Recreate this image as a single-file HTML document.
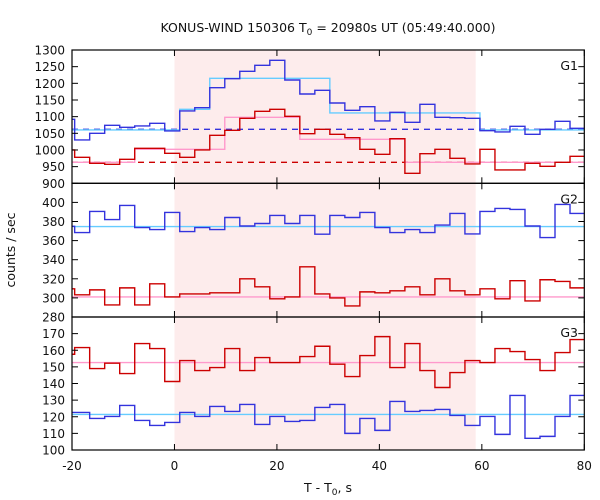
<!DOCTYPE html>
<html><head><meta charset="utf-8"><style>
body{margin:0;background:#fff;}
svg{display:block;font-family:"DejaVu Sans","Liberation Sans",sans-serif;}
</style></head><body>
<svg id="chart" width="600" height="500" viewBox="0 0 600 500">
<text x="328" y="32" text-anchor="middle" font-size="12.5" fill="#111">KONUS-WIND 150306 T<tspan font-size="9" dy="3">0</tspan><tspan dy="-3"> = 20980s UT (05:49:40.000)</tspan></text>
<text transform="translate(15,250) rotate(-90)" text-anchor="middle" font-size="12.5" fill="#111">counts / sec</text>
<text x="328" y="492" text-anchor="middle" font-size="12.5" fill="#111">T - T<tspan font-size="9" dy="3">0</tspan><tspan dy="-3">, s</tspan></text>
</svg>
<script>
const binStart = -19.48;
const binWidth = 2.93;
const xTicks = [-20, 0, 20, 40, 60, 80];
const shadeRange = [0, 58.8];

const g1Hard = [1092,1030,1050,1074,1068,1072,1080,1057,1117,1127,1187,1214,1236,1254,1269,1210,1168,1179,1141,1119,1130,1087,1113,1083,1137,1098,1097,1095,1058,1054,1071,1047,1062,1086,1065];
const g1HardModel = [1060,1060,1060,1060,1060,1060,1060,1060,1122,1122,1215,1215,1215,1215,1215,1215,1215,1215,1111,1111,1111,1111,1111,1111,1111,1111,1111,1111,1060,1060,1060,1060,1060,1060,1060];
const g1Soft = [1000,978,960,957,972,1005,1005,990,978,1000,1044,1059,1095,1116,1122,1101,1049,1062,1047,1037,1002,987,1034,930,989,1002,975,958,1002,940,940,960,951,963,981];
const g1SoftModel = [963,963,963,963,963,1002,1002,1002,1002,1002,1002,1098,1098,1098,1098,1098,1032,1032,1032,1032,1032,1032,1032,963,963,963,963,963,963,963,963,963,963,963,963];
const g1Bg = [1062, 963];

const g2Blue = [375,368.4,390.5,382,396.8,373.7,371.6,389.5,369.5,373.7,371.6,384.2,375.3,377.9,386.3,377.9,386.3,366.7,386.3,384.2,389.5,373.7,368.4,371.6,368.4,376.3,388.4,367,390.5,393.7,392.6,375.3,363.2,397.9,388.4];
const g2BlueBg = 374.7;
const g2Red = [309.5,303.2,308.4,292.6,310.5,292.6,314.7,301,304.2,304.2,305.3,305.3,320,311.6,299,301,332.6,304.2,300,291.6,306.3,305.3,307.4,311.6,303.2,320,307.4,303.2,309.5,299,318,296.8,319,317.2,310.5];
const g2RedBg = 301;

const g3Red = [157.6,161.6,149,152.2,146,164,161,141.2,153.8,147.8,149.6,161,147.8,155.6,152.6,152.6,156.2,162.4,151.6,144.2,156.8,168.2,149.6,164,147.8,137.6,146.6,153.8,152.6,161,159.2,154.4,147.8,158.6,166.4];
const g3RedBg = 152.6;
const g3Blue = [122.6,122.6,119,120.2,126.8,117.8,114.8,116.6,122.6,120.2,126.2,123.2,127.4,115.4,120.2,117.2,117.8,125.6,127.4,110,119,111.8,129.2,123.2,123.8,124.4,120.8,114.8,120.2,109.4,132.8,107,108.2,120.2,132.8];
const g3BlueBg = 121.4;

const p1Ticks = [1300,1250,1200,1150,1100,1050,1000,950,900];
const p2Ticks = [400,380,360,340,320,300,280];
const p3Ticks = [170,160,150,140,130,120,110,100];

const NS = "http://www.w3.org/2000/svg";
const svg = document.getElementById('chart');
const X0 = 72, X1 = 584.3, T0 = -20, T1 = 80;
const xs = t => X0 + (t - T0) / (T1 - T0) * (X1 - X0);
const panels = [
  {top:50, bot:183.3, min:900, max:1300, label:'G1', ticks:p1Ticks},
  {top:183.3, bot:317, min:280, max:420, label:'G2', ticks:p2Ticks},
  {top:317, bot:450, min:100, max:180, label:'G3', ticks:p3Ticks}
];
panels.forEach(p => p.y = v => p.bot - (v - p.min) / (p.max - p.min) * (p.bot - p.top));

function mk(tag, attrs, parent) {
  const e = document.createElementNS(NS, tag);
  for (const k in attrs) e.setAttribute(k, attrs[k]);
  (parent || svg).appendChild(e);
  return e;
}
function edges(n) {
  const e = [T0];
  for (let i = 0; i < n; i++) e.push(Math.min(T1, binStart + binWidth * i));
  e.push(T1);
  return e; // n values -> bin i spans e[i]..e[i+1]
}
function stepPath(vals, p) {
  const e = [T0];
  for (let i = 0; i < vals.length - 1; i++) e.push(binStart + binWidth * i);
  e.push(T1);
  let d = '';
  vals.forEach((v, i) => {
    const y = p.y(v).toFixed(2);
    d += (i === 0 ? 'M' : 'L') + xs(e[i]).toFixed(2) + ',' + y + 'L' + xs(e[i + 1]).toFixed(2) + ',' + y;
  });
  return d;
}

// shading
const shade = mk('rect', {x: xs(shadeRange[0]), y: 50, width: xs(shadeRange[1]) - xs(shadeRange[0]), height: 400, fill: '#fdecec'});



function hline(p, v, color, dash, name) {
  const l = mk('line', {x1: X0, x2: X1, y1: p.y(v), y2: p.y(v), stroke: color, 'stroke-width': 1.3});
  if (dash) l.setAttribute('stroke-dasharray', '6,5');
  
  
}
function series(vals, p, color, name) {
  const s = mk('path', {d: stepPath(vals, p), fill: 'none', stroke: color, 'stroke-width': 1.4});
  
  
}
const BLUE = '#3333dd', LBLUE = '#66ccff', RED = '#cc0000', PINK = '#ff99cc';

// panel 1
hline(panels[0], g1Bg[0], BLUE, true, 'g1-hard-background');
hline(panels[0], g1Bg[1], RED, true, 'g1-soft-background');
series(g1HardModel, panels[0], LBLUE, 'g1-hard-model');
series(g1SoftModel, panels[0], PINK, 'g1-soft-model');
series(g1Hard, panels[0], BLUE, 'g1-hard-curve');
series(g1Soft, panels[0], RED, 'g1-soft-curve');
// panel 2
hline(panels[1], g2BlueBg, LBLUE, false, 'g2-blue-background');
hline(panels[1], g2RedBg, PINK, false, 'g2-red-background');
series(g2Blue, panels[1], BLUE, 'g2-blue-curve');
series(g2Red, panels[1], RED, 'g2-red-curve');
// panel 3
hline(panels[2], g3RedBg, PINK, false, 'g3-red-background');
hline(panels[2], g3BlueBg, LBLUE, false, 'g3-blue-background');
series(g3Red, panels[2], RED, 'g3-red-curve');
series(g3Blue, panels[2], BLUE, 'g3-blue-curve');

// axes
panels.forEach((p, pi) => {
  const fr = mk('rect', {x: X0, y: p.top, width: X1 - X0, height: p.bot - p.top, fill: 'none', stroke: '#000', 'stroke-width': 1.2});
  
  
  p.ticks.forEach(v => {
    const y = p.y(v);
    mk('line', {x1: X0, x2: X0 + 6, y1: y, y2: y, stroke: '#000', 'stroke-width': 1});
    mk('line', {x1: X1 - 6, x2: X1, y1: y, y2: y, stroke: '#000', 'stroke-width': 1});
    const t = mk('text', {x: X0 - 7, y: y + 4.5, 'text-anchor': 'end', 'font-size': 12, fill: '#111'});
    t.textContent = v;
    
    
  });
  xTicks.forEach(t => {
    const x = xs(t);
    mk('line', {x1: x, x2: x, y1: p.top, y2: p.top + 6, stroke: '#000', 'stroke-width': 1});
    mk('line', {x1: x, x2: x, y1: p.bot - 6, y2: p.bot, stroke: '#000', 'stroke-width': 1});
  });
  const lb = mk('text', {x: 578, y: p.top + 20, 'text-anchor': 'end', 'font-size': 12.5, fill: '#111'});
  lb.textContent = p.label;
  
  
});
xTicks.forEach(t => {
  const tx = mk('text', {x: xs(t), y: 470, 'text-anchor': 'middle', 'font-size': 12, fill: '#111'});
  tx.textContent = t;
  
  
});
</script>
</body></html>
